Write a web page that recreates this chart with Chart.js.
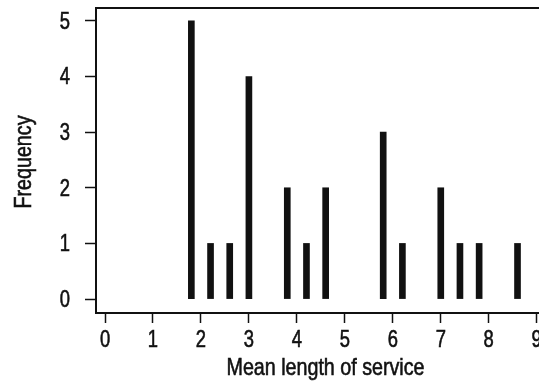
<!DOCTYPE html>
<html>
<head>
<meta charset="utf-8">
<script src="https://cdn.jsdelivr.net/npm/chart.js@4"></script>
<style>
html,body{margin:0;padding:0;background:#fff;}
#wrap{width:539px;height:382px;position:relative;}
</style>
</head>
<body>
<div id="wrap"><canvas id="c" width="539" height="382"></canvas></div>
<script>
const serviceLengths = [1.8, 2.2, 2.6, 3.0, 3.8, 4.2, 4.6, 5.8, 6.2, 7.0, 7.4, 7.8, 8.6];
const frequencies    = [5,   1,   1,   4,   2,   1,   2,   3,   1,   2,   1,   1,   1];
const xTickValues = [0, 1, 2, 3, 4, 5, 6, 7, 8, 9];
const yTickValues = [0, 1, 2, 3, 4, 5];
const xTitle = 'Mean length of service';
const yTitle = 'Frequency';

const FONT = "'Liberation Sans', Arial, sans-serif";
const INK = '#111';
const NARROW_TICK = 0.8;
const NARROW_TITLE = 0.82;

// Draws condensed (narrow) text, since no narrow font face is installed.
const narrowText = {
  id: 'narrowText',
  afterDraw(chart) {
    const ctx = chart.ctx;
    const sx = chart.scales.x, sy = chart.scales.y;
    const put = (txt, x, y, align, scale, size, rot) => {
      ctx.save();
      ctx.translate(x, y);
      if (rot) ctx.rotate(rot);
      ctx.scale(scale, 1);
      ctx.font = size + 'px ' + FONT;
      ctx.fillStyle = INK;
      ctx.strokeStyle = INK;
      ctx.lineWidth = 0.6;
      ctx.textAlign = align;
      ctx.textBaseline = 'alphabetic';
      ctx.fillText(txt, 0, 0);
      ctx.strokeText(txt, 0, 0);
      ctx.restore();
    };
    xTickValues.forEach(v => put(String(v), sx.getPixelForValue(v), 347, 'center', NARROW_TICK, 23));
    yTickValues.forEach(v => put(String(v), 70, sy.getPixelForValue(v) + 8, 'right', NARROW_TICK, 23));
    put(xTitle, 325.5, 375, 'center', NARROW_TITLE, 24);
    put(yTitle, 31, 162, 'center', NARROW_TITLE, 24, -Math.PI / 2);
  }
};

new Chart(document.getElementById('c'), {
  type: 'bar',
  data: {
    datasets: [{
      data: serviceLengths.map((x, i) => ({x: x, y: frequencies[i]})),
      backgroundColor: INK,
      borderWidth: 0,
      barThickness: 6
    }]
  },
  plugins: [narrowText],
  options: {
    responsive: false,
    animation: false,
    layout: {padding: {left: 0, right: 0, top: 8, bottom: 0}},
    plugins: {legend: {display: false}, tooltip: {enabled: false}},
    scales: {
      x: {
        type: 'linear',
        min: -0.188,
        max: 9.048,
        offset: false,
        afterBuildTicks: s => { s.ticks = xTickValues.map(v => ({value: v})); },
        afterFit: s => { s.height = 69; s.paddingLeft = 0; s.paddingRight = 0; },
        grid: {display: true, offset: false, drawOnChartArea: false, drawTicks: true, tickLength: 10, tickColor: INK, tickWidth: 1.5},
        border: {display: true, color: INK, width: 2},
        ticks: {display: false},
        title: {display: false}
      },
      xTop: {
        type: 'linear',
        position: 'top',
        min: -0.188,
        max: 9.048,
        afterFit: s => { s.height = 0; s.paddingLeft = 0; s.paddingRight = 0; },
        grid: {display: false},
        border: {display: true, color: INK, width: 2},
        ticks: {display: false}
      },
      y: {
        type: 'linear',
        min: -0.25,
        max: 5.23,
        afterBuildTicks: s => { s.ticks = yTickValues.map(v => ({value: v})); },
        afterFit: s => { s.width = 96; s.paddingTop = 0; s.paddingBottom = 0; },
        grid: {display: true, offset: false, drawOnChartArea: false, drawTicks: true, tickLength: 11, tickColor: INK, tickWidth: 1.5},
        border: {display: true, color: INK, width: 2},
        ticks: {display: false},
        title: {display: false}
      }
    }
  }
});
</script>
</body>
</html>
